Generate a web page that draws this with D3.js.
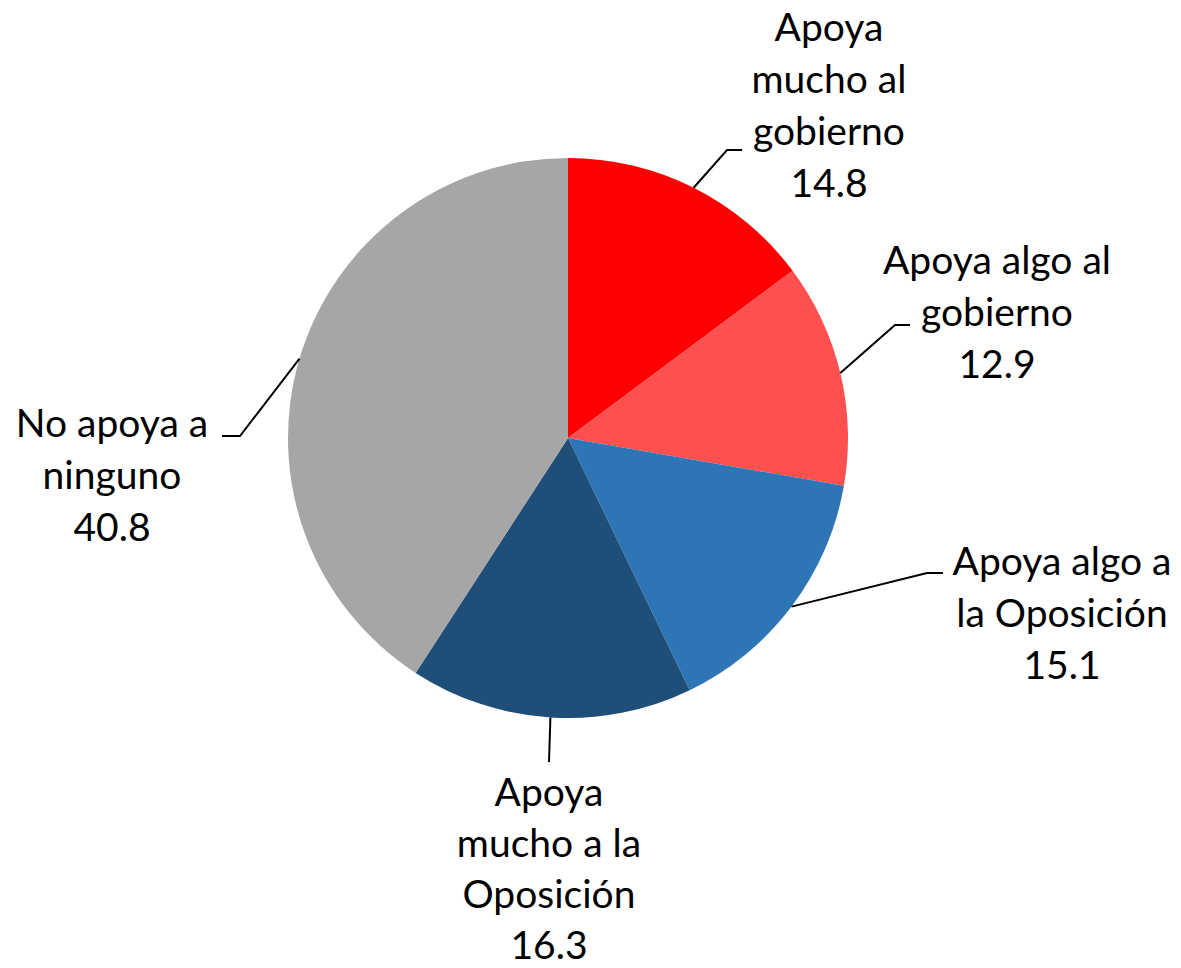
<!DOCTYPE html>
<html>
<head>
<meta charset="utf-8">
<script src="https://cdn.jsdelivr.net/npm/d3@7"></script>
<style>
  body { margin: 0; background: #fff; }
  svg text { font-family: Lato, "Liberation Sans", sans-serif; fill: #000; }
</style>
</head>
<body>
<script>
// Datos de la gráfica
var categorias = [
  ["Apoya", "mucho al", "gobierno"],
  ["Apoya algo al", "gobierno"],
  ["Apoya algo a", "la Oposición"],
  ["Apoya", "mucho a la", "Oposición"],
  ["No apoya a", "ninguno"]
];
var valores = [14.8, 12.9, 15.1, 16.3, 40.8];
var colores = ["#FF0000", "#FF5050", "#2E75B6", "#1F4E79", "#A6A6A6"];

// Posición de las etiquetas: codo de la línea guía, fin horizontal y centro del texto
var guias = [
  { codo: [727, 150], fin: [742, 150], tx: 829, ty: 27 },
  { codo: [895, 325], fin: [910, 325], tx: 997, ty: 260 },
  { codo: [927, 573], fin: [943, 573], tx: 1062, ty: 561 },
  { codo: [549, 762], fin: [549, 762], tx: 549, ty: 792 },
  { codo: [240, 436], fin: [222, 436], tx: 112, ty: 423 }
];

var width = 1181, height = 968,
    cx = 568, cy = 438, radio = 280,
    altoLinea = 52;

var svg = d3.select("body")
  .append("svg")
  .attr("width", width)
  .attr("height", height);

var pie = d3.pie().sort(null).value(function(d) { return d; });
var arc = d3.arc().innerRadius(0).outerRadius(radio);
var datos = pie(valores);

var g = svg.append("g")
  .attr("transform", "translate(" + cx + "," + cy + ")");

// Sectores
g.selectAll("path")
  .data(datos)
  .enter()
  .append("path")
  .attr("d", arc)
  .attr("fill", function(d, i) { return colores[i]; });

// Líneas guía
svg.append("g")
  .selectAll("polyline")
  .data(datos)
  .enter()
  .append("polyline")
  .attr("fill", "none")
  .attr("stroke", "#000")
  .attr("stroke-width", 2)
  .attr("points", function(d, i) {
    var a = (d.startAngle + d.endAngle) / 2;
    var p0 = [cx + radio * Math.sin(a), cy - radio * Math.cos(a)];
    return [p0, guias[i].codo, guias[i].fin].map(function(p) { return p.join(","); }).join(" ");
  });

// Etiquetas
var etiquetas = svg.append("g")
  .selectAll("text")
  .data(datos)
  .enter()
  .append("text")
  .attr("text-anchor", "middle")
  .attr("font-size", 39)
  .attr("x", function(d, i) { return guias[i].tx; })
  .attr("y", function(d, i) { return guias[i].ty; });

etiquetas.each(function(d, i) {
  var lineas = categorias[i].concat([valores[i].toFixed(1)]);
  var t = d3.select(this);
  lineas.forEach(function(l, k) {
    t.append("tspan")
      .attr("x", guias[i].tx)
      .attr("y", guias[i].ty + k * (i === 3 ? altoLinea - 1 : altoLinea))
      .attr("dy", "0.35em")
      .text(l);
  });
});
</script>
</body>
</html>
